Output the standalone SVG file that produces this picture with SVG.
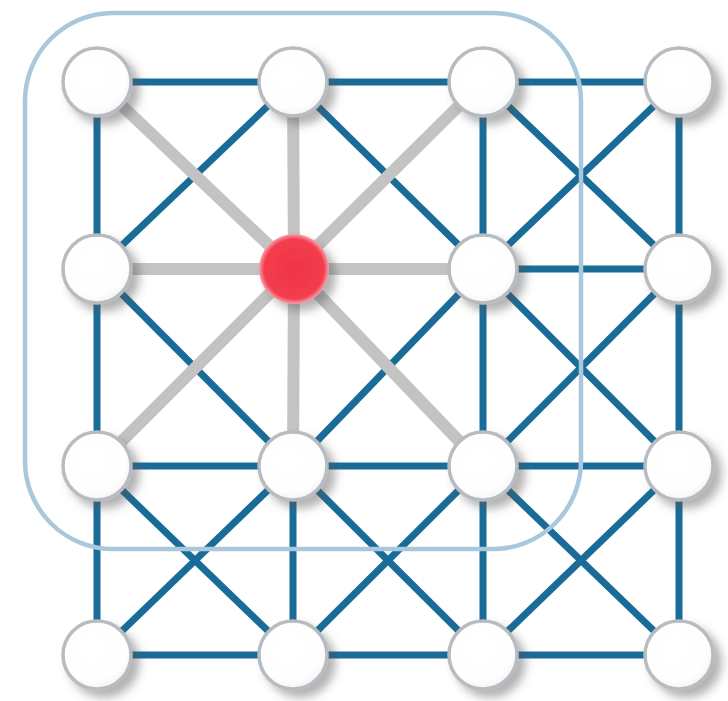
<svg xmlns="http://www.w3.org/2000/svg" width="728" height="701" viewBox="0 0 728 701">
<defs>
<style>
.e{stroke:#1a6c98;stroke-width:7;stroke-linecap:round;fill:none}
.g{stroke:#c3c3c3;stroke-width:12;fill:none}
.n{fill:url(#nf);stroke:#b8bcc0;stroke-width:3.5;filter:url(#sh)}
.frame{fill:none;stroke:#a9c8db;stroke-width:4.5}
</style>
<radialGradient id="nf" cx="0.45" cy="0.4" r="0.6">
<stop offset="0" stop-color="#ffffff"/>
<stop offset="0.8" stop-color="#fefefe"/>
<stop offset="1" stop-color="#f3f4f6"/>
</radialGradient>
<radialGradient id="rf" cx="0.5" cy="0.5" r="0.5">
<stop offset="0" stop-color="#f03446"/>
<stop offset="0.85" stop-color="#f33c4e"/>
<stop offset="1" stop-color="#f8a0a8"/>
</radialGradient>
<filter id="sh" x="-50%" y="-50%" width="200%" height="200%">
<feDropShadow dx="7" dy="7" stdDeviation="5" flood-color="#555" flood-opacity="0.45"/>
</filter>
</defs>
<rect width="728" height="701" fill="#ffffff"/>
<g id="connectors">
<g id="blue-edges">
<line class="e" x1="97" y1="82" x2="293" y2="82"/>
<line class="e" x1="293" y1="82" x2="483" y2="82"/>
<line class="e" x1="483" y1="82" x2="679" y2="82"/>
<line class="e" x1="483" y1="269" x2="679" y2="269"/>
<line class="e" x1="97" y1="466" x2="293" y2="466"/>
<line class="e" x1="293" y1="466" x2="483" y2="466"/>
<line class="e" x1="483" y1="466" x2="679" y2="466"/>
<line class="e" x1="97" y1="655" x2="293" y2="655"/>
<line class="e" x1="293" y1="655" x2="483" y2="655"/>
<line class="e" x1="483" y1="655" x2="679" y2="655"/>
<line class="e" x1="97" y1="82" x2="97" y2="269"/>
<line class="e" x1="97" y1="269" x2="97" y2="466"/>
<line class="e" x1="97" y1="466" x2="97" y2="655"/>
<line class="e" x1="293" y1="466" x2="293" y2="655"/>
<line class="e" x1="483" y1="82" x2="483" y2="269"/>
<line class="e" x1="483" y1="269" x2="483" y2="466"/>
<line class="e" x1="483" y1="466" x2="483" y2="655"/>
<line class="e" x1="679" y1="82" x2="679" y2="269"/>
<line class="e" x1="679" y1="269" x2="679" y2="466"/>
<line class="e" x1="679" y1="466" x2="679" y2="655"/>
<line class="e" x1="293" y1="82" x2="97" y2="269"/>
<line class="e" x1="293" y1="82" x2="483" y2="269"/>
<line class="e" x1="483" y1="82" x2="679" y2="269"/>
<line class="e" x1="679" y1="82" x2="483" y2="269"/>
<line class="e" x1="97" y1="269" x2="293" y2="466"/>
<line class="e" x1="483" y1="269" x2="293" y2="466"/>
<line class="e" x1="483" y1="269" x2="679" y2="466"/>
<line class="e" x1="679" y1="269" x2="483" y2="466"/>
<line class="e" x1="97" y1="466" x2="293" y2="655"/>
<line class="e" x1="293" y1="466" x2="97" y2="655"/>
<line class="e" x1="293" y1="466" x2="483" y2="655"/>
<line class="e" x1="483" y1="466" x2="293" y2="655"/>
<line class="e" x1="483" y1="466" x2="679" y2="655"/>
<line class="e" x1="679" y1="466" x2="483" y2="655"/>
</g>
<g id="gray-edges">
<line class="g" x1="294" y1="269" x2="97" y2="82"/>
<line class="g" x1="294" y1="269" x2="293" y2="82"/>
<line class="g" x1="294" y1="269" x2="483" y2="82"/>
<line class="g" x1="294" y1="269" x2="97" y2="269"/>
<line class="g" x1="294" y1="269" x2="483" y2="269"/>
<line class="g" x1="294" y1="269" x2="97" y2="466"/>
<line class="g" x1="294" y1="269" x2="293" y2="466"/>
<line class="g" x1="294" y1="269" x2="483" y2="466"/>
</g>
</g>
<g id="neighborhood">
<rect class="frame" x="25" y="13" width="556" height="536" rx="88" ry="88"/>
</g>
<g id="nodes">
<g id="n00"><circle class="n" cx="97" cy="82" r="34"/></g>
<g id="n10"><circle class="n" cx="293" cy="82" r="34"/></g>
<g id="n20"><circle class="n" cx="483" cy="82" r="34"/></g>
<g id="n30"><circle class="n" cx="679" cy="82" r="34"/></g>
<g id="n01"><circle class="n" cx="97" cy="269" r="34"/></g>
<g id="n11"><circle cx="294" cy="269" r="35" fill="url(#rf)" filter="url(#sh)"/></g>
<g id="n21"><circle class="n" cx="483" cy="269" r="34"/></g>
<g id="n31"><circle class="n" cx="679" cy="269" r="34"/></g>
<g id="n02"><circle class="n" cx="97" cy="466" r="34"/></g>
<g id="n12"><circle class="n" cx="293" cy="466" r="34"/></g>
<g id="n22"><circle class="n" cx="483" cy="466" r="34"/></g>
<g id="n32"><circle class="n" cx="679" cy="466" r="34"/></g>
<g id="n03"><circle class="n" cx="97" cy="655" r="34"/></g>
<g id="n13"><circle class="n" cx="293" cy="655" r="34"/></g>
<g id="n23"><circle class="n" cx="483" cy="655" r="34"/></g>
<g id="n33"><circle class="n" cx="679" cy="655" r="34"/></g>
</g>
</svg>
